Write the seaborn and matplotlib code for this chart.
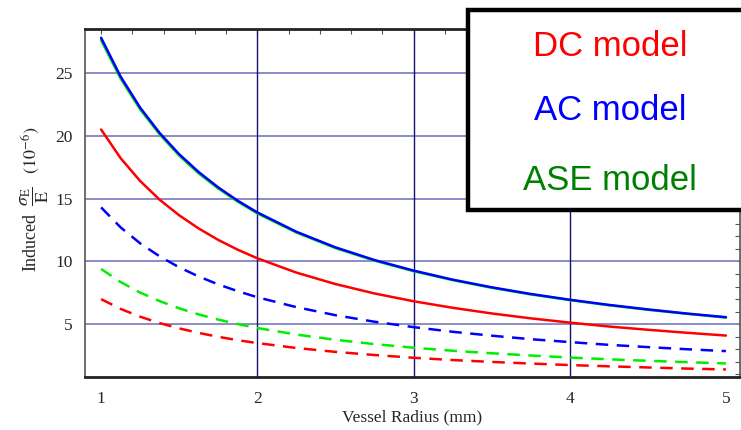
import numpy as np
import pandas as pd
import matplotlib
matplotlib.use("Agg")
import matplotlib.pyplot as plt
import seaborn as sns
from matplotlib.patches import Rectangle
from matplotlib.ticker import MultipleLocator

# ---- data ----
radius = [1.0, 1.125, 1.25, 1.375, 1.5, 1.625, 1.75, 1.875, 2.0, 2.25, 2.5,
          2.75, 3.0, 3.25, 3.5, 3.75, 4.0, 4.25, 4.5, 4.75, 5.0]
ac_solid = [27.8, 24.71, 22.24, 20.22, 18.53, 17.11, 15.89, 14.83, 13.9, 12.36, 11.12,
            10.11, 9.27, 8.55, 7.94, 7.41, 6.95, 6.54, 6.18, 5.85, 5.56]
ase_solid = [27.6, 24.55, 22.1, 20.1, 18.42, 17.0, 15.8, 14.75, 13.82, 12.3, 11.06,
             10.06, 9.22, 8.51, 7.9, 7.37, 6.92, 6.51, 6.15, 5.83, 5.53]
dc_solid = [20.5, 18.22, 16.4, 14.91, 13.67, 12.62, 11.71, 10.93, 10.25, 9.11, 8.2,
            7.45, 6.83, 6.31, 5.86, 5.47, 5.13, 4.82, 4.56, 4.32, 4.1]
ac_dashed = [14.3, 12.71, 11.44, 10.4, 9.53, 8.8, 8.17, 7.63, 7.15, 6.36, 5.72,
             5.2, 4.77, 4.4, 4.09, 3.81, 3.58, 3.36, 3.18, 3.01, 2.86]
ase_dashed = [9.4, 8.36, 7.52, 6.84, 6.27, 5.78, 5.37, 5.01, 4.7, 4.18, 3.76,
              3.42, 3.13, 2.89, 2.69, 2.51, 2.35, 2.21, 2.09, 1.98, 1.88]
dc_dashed = [7.0, 6.22, 5.6, 5.09, 4.67, 4.31, 4.0, 3.73, 3.5, 3.11, 2.8,
             2.55, 2.33, 2.15, 2.0, 1.87, 1.75, 1.65, 1.56, 1.47, 1.4]

x_ticks = [1, 2, 3, 4, 5]
y_ticks = [5, 10, 15, 20, 25]
legend_labels = ["DC model", "AC model", "ASE model"]
legend_colors = ["#ff0000", "#0000ff", "#008000"]

RED, BLUE, GREEN = "#ff0000", "#0000ff", "#00ee00"

sns.set_style("white")
plt.rcParams['font.family'] = ['Liberation Serif', 'DejaVu Serif']
plt.rcParams['mathtext.fontset'] = 'stix'

fig = plt.figure(figsize=(7.41, 4.30), dpi=100)
ax = fig.add_axes([85/741, 1-377/430, (740-85)/741, (377-29)/430])

# grid lines
for yv in y_ticks:
    ax.axhline(yv, color="#8a8ac6", lw=1.4, zorder=1)
for xv in x_ticks[1:-1]:
    ax.axvline(xv, color="#14146e", lw=1.0, zorder=1)

series = [
    (dc_dashed, RED, True),
    (ase_dashed, GREEN, True),
    (ac_dashed, BLUE, True),
    (dc_solid, RED, False),
    (ase_solid, GREEN, False),
    (ac_solid, BLUE, False),
]
for vals, col, dashed in series:
    df = pd.DataFrame({"r": radius, "v": vals})
    sns.lineplot(data=df, x="r", y="v", ax=ax, color=col, lw=1.8, zorder=3)
    ln = ax.lines[-1]
    if dashed:
        ln.set_dashes((5.0, 3.4))

ax.set_xlim(0.897, 5.09)
ax.set_ylim(0.8, 28.5)
ax.set_xticks(x_ticks)
ax.set_yticks(y_ticks)
ax.xaxis.set_minor_locator(MultipleLocator(0.2))
ax.yaxis.set_minor_locator(MultipleLocator(1))
ax.tick_params(which="both", direction="in", top=True, right=True,
               length=3.5, width=0.8, color="#555555", labelsize=12.5, pad=9)
ax.tick_params(axis="x", pad=10)

for s in ["top", "bottom"]:
    ax.spines[s].set_linewidth(2.0)
    ax.spines[s].set_color("#222222")
for s in ["left", "right"]:
    ax.spines[s].set_linewidth(1.2)
    ax.spines[s].set_color("#555555")

ax.set_xlabel("Vessel Radius (mm)", fontsize=12.5, labelpad=2)
ax.set_ylabel(r"Induced $\;\dfrac{\sigma_{\mathrm{E}}}{\mathrm{E}}\;$  $(10^{-6})$",
              fontsize=13)
ax.yaxis.set_label_coords(-0.052, 0.51)

# legend box
rect = Rectangle((468/741, 1-210/430), 280/741, 200/430, transform=fig.transFigure,
                 facecolor="white", edgecolor="black", lw=3.2, zorder=10, clip_on=False)
fig.add_artist(rect)
for lab, col, yp in zip(legend_labels, legend_colors, [46, 110, 181]):
    fig.text(610/741, 1-yp/430, lab, color=col, fontsize=25,
             family=['Liberation Sans', 'DejaVu Sans'], ha="center", va="center", zorder=11)

fig.savefig("out.png", dpi=100)
